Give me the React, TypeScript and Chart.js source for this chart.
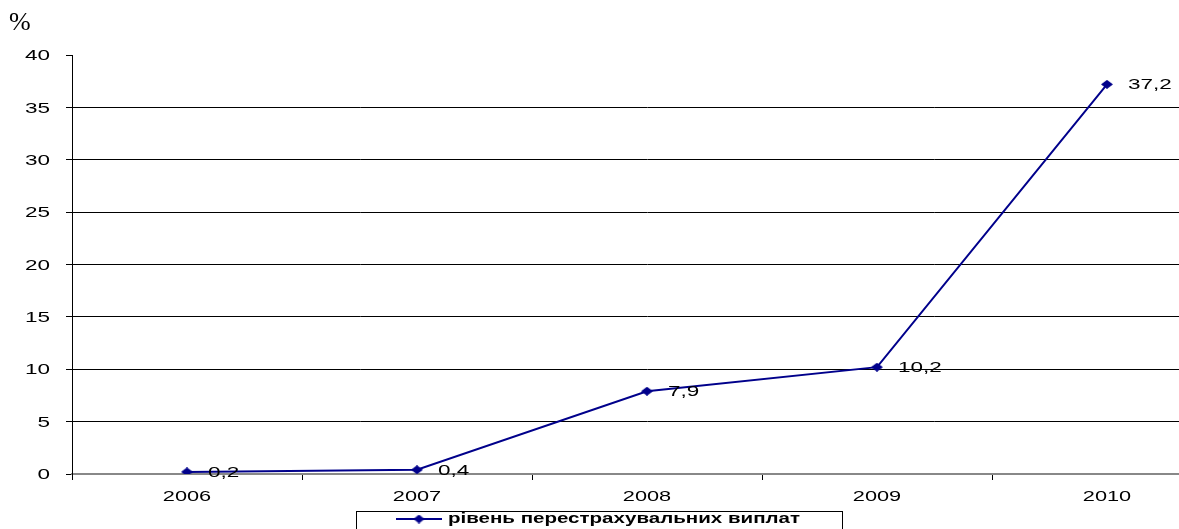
import React, { useEffect, useRef } from "react";
import { Chart, registerables } from "chart.js";

Chart.register(...registerables);

const years = ["2006", "2007", "2008", "2009", "2010"];
const values = [0.2, 0.4, 7.9, 10.2, 37.2];
const valueLabels = ["0,2", "0,4", "7,9", "10,2", "37,2"];
const seriesName = "рівень перестрахувальних виплат";
const yTicks = [0, 5, 10, 15, 20, 25, 30, 35, 40];

const LINE = "#00008B";
const FONT = "Arial, 'Liberation Sans', sans-serif";

function makeDiamond(w: number, h: number): HTMLCanvasElement {
  const c = document.createElement("canvas");
  c.width = w;
  c.height = h;
  const g = c.getContext("2d")!;
  g.fillStyle = LINE;
  g.beginPath();
  g.moveTo(w / 2, 0);
  g.lineTo(w, h / 2);
  g.lineTo(w / 2, h);
  g.lineTo(0, h / 2);
  g.closePath();
  g.fill();
  return c;
}

function stretchText(
  ctx: CanvasRenderingContext2D,
  text: string,
  x: number,
  y: number,
  sx: number,
  align: "left" | "center" | "right"
) {
  ctx.save();
  ctx.translate(x, y);
  ctx.scale(sx, 1);
  ctx.textAlign = align;
  ctx.fillText(text, 0, 0);
  ctx.restore();
}

const extras = {
  id: "extras",
  afterDatasetsDraw(chart: any) {
    const ctx = chart.ctx;
    const meta = chart.getDatasetMeta(0);
    ctx.save();
    ctx.fillStyle = "#000";
    ctx.font = `15px ${FONT}`;
    ctx.textBaseline = "middle";
    meta.data.forEach((pt: any, i: number) => {
      stretchText(ctx, valueLabels[i], pt.x + 21, pt.y + 1, 1.5, "left");
    });
    ctx.restore();
  },
  afterDraw(chart: any) {
    const ctx = chart.ctx;
    const xs = chart.scales.x;
    const ys = chart.scales.y;
    ctx.save();
    ctx.fillStyle = "#000";
    ctx.font = `15px ${FONT}`;
    ctx.textBaseline = "middle";
    yTicks.forEach((v) => {
      stretchText(ctx, String(v), ys.right - 22, ys.getPixelForValue(v) + 1, 1.5, "right");
    });
    years.forEach((lab, i) => {
      stretchText(ctx, lab, xs.getPixelForValue(i), xs.top + 23, 1.45, "center");
    });
    // "%" label
    ctx.font = `26px 'Liberation Serif', 'Times New Roman', serif`;
    ctx.textBaseline = "alphabetic";
    stretchText(ctx, "%", 9, 30, 1.0, "left");
    // legend box
    ctx.strokeStyle = "#000";
    ctx.lineWidth = 1;
    ctx.strokeRect(356.5, 511.5, 486, 30);
    ctx.strokeStyle = LINE;
    ctx.lineWidth = 2;
    ctx.beginPath();
    ctx.moveTo(396, 519);
    ctx.lineTo(442, 519);
    ctx.stroke();
    ctx.drawImage(makeDiamond(11, 9), 413.5, 514.5);
    ctx.fillStyle = "#000";
    ctx.font = `bold 15px ${FONT}`;
    ctx.textBaseline = "middle";
    const w = ctx.measureText(seriesName).width;
    stretchText(ctx, seriesName, 448, 519, 352 / w, "left");
    ctx.restore();
  },
};

export default function App() {
  const ref = useRef<HTMLCanvasElement>(null);
  useEffect(() => {
    document.body.style.margin = "0";
    const marker = makeDiamond(12, 9);
    const chart = new Chart(ref.current!, {
      type: "line",
      data: {
        labels: years,
        datasets: [
          {
            label: seriesName,
            data: values,
            borderColor: LINE,
            backgroundColor: LINE,
            borderWidth: 2,
            pointStyle: marker as any,
            pointRadius: 5,
            tension: 0,
          },
        ],
      },
      plugins: [extras],
      options: {
        animation: false,
        responsive: false,
        devicePixelRatio: 1,
        layout: { padding: { top: 55, left: 0, right: 8, bottom: 0 } },
        plugins: {
          legend: { display: false },
          tooltip: { enabled: false },
        },
        scales: {
          x: {
            type: "category",
            offset: true,
            grid: {
              offset: true,
              drawOnChartArea: false,
              drawTicks: true,
              tickLength: 6,
              tickColor: "#000",
            },
            border: { color: "#888", width: 2 },
            ticks: { display: false },
            afterFit(scale: any) {
              scale.height = 55;
            },
          },
          y: {
            min: 0,
            max: 40,
            afterBuildTicks(scale: any) {
              scale.ticks = yTicks.map((v) => ({ value: v }));
            },
            grid: {
              color: (c: any) =>
                c.tick && (c.tick.value === 40 || c.tick.value === 0)
                  ? "rgba(0,0,0,0)"
                  : "#000",
              lineWidth: 1,
              tickLength: 6,
              tickColor: "#000",
            },
            border: { color: "#000", width: 1 },
            ticks: { display: false },
            afterFit(scale: any) {
              scale.width = 72;
            },
          },
        },
      },
    });
    return () => chart.destroy();
  }, []);
  return (
    <div
      style={{
        position: "fixed",
        left: 0,
        top: 0,
        width: 1179,
        height: 529,
        overflow: "hidden",
        background: "#fff",
      }}
    >
      <canvas ref={ref} width={1230} height={529} style={{ display: "block" }} />
    </div>
  );
}
